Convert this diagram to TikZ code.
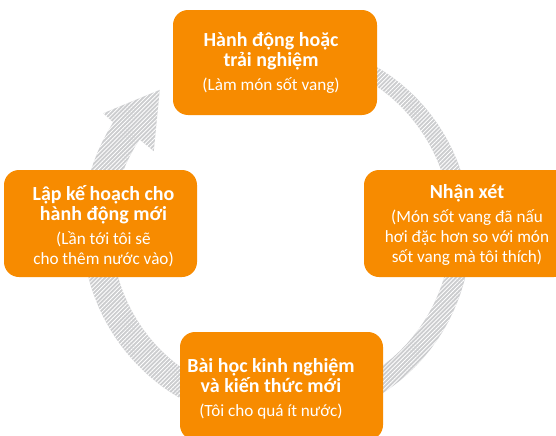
\documentclass[tikz,border=0pt]{standalone}
\usepackage{fontspec}
\setmainfont{Carlito}
\usetikzlibrary{patterns.meta}

\definecolor{stageorange}{RGB}{247,139,0}
\definecolor{ringgrey}{RGB}{204,205,207}

\newcommand{\stagehead}[1]{{\fontsize{14.2}{15}\selectfont\bfseries #1}}

\tikzset{
  stagebox/.style={fill=stageorange, rounded corners=10.7pt},
  stagetext/.style={text=white, align=center, inner sep=0pt,
    font=\fontsize{12.2}{14.2}\selectfont},
  ringfill/.style={fill=ringgrey,
    postaction={pattern={Lines[angle=45,distance=2.1pt,line width=0.6pt]}, pattern color=white}}
}

\begin{document}
\begin{tikzpicture}[x=0.025cm, y=-0.025cm,
  declare function={ringx(\t,\q)=279+\q*cos(\t); ringy(\t,\q)=230-\q*sin(\t); hw(\t)=7.5+(80-\t)*0.028;}]
\clip (0,0) rectangle (556,435);

% circular arrow behind the stages
\path[ringfill] plot[domain=80:-213,samples=90] ({ringx(\x,182+hw(\x))},{ringy(\x,182+hw(\x))})
  -- ({ringx(-213.6,211)},{ringy(-213.6,211)})
  -- ({ringx(-229.6,184)},{ringy(-229.6,184)})
  -- ({ringx(-212.2,148)},{ringy(-212.2,148)})
  -- plot[domain=-213:80,samples=90] ({ringx(\x,182-hw(\x))},{ringy(\x,182-hw(\x))})
  -- cycle;

% stages
\fill[stagebox] (173,10) rectangle (377,115);
\fill[stagebox] (364,170) rectangle (569,277);
\fill[stagebox] (180,332) rectangle (383,440);
\fill[stagebox] (4,170) rectangle (197,277);

\node[stagetext] (act) at (271,63) {\stagehead{Hành động hoặc}\\\stagehead{trải nghiệm}\\[3pt](Làm món sốt vang)};
\node[stagetext] (review) at (467,225) {\stagehead{Nhận xét}\\[3pt](Món sốt vang đã nấu\\hơi đặc hơn so với món\\sốt vang mà tôi thích)};
\node[stagetext] (learn) at (271,389) {\stagehead{Bài học kinh nghiệm}\\\stagehead{và kiến thức mới}\\[3pt](Tôi cho quá ít nước)};
\node[stagetext] (plan) at (103.5,226) {\stagehead{Lập kế hoạch cho}\\\stagehead{hành động mới}\\[3pt](Lần tới tôi sẽ\\cho thêm nước vào)};

\end{tikzpicture}
\end{document}
